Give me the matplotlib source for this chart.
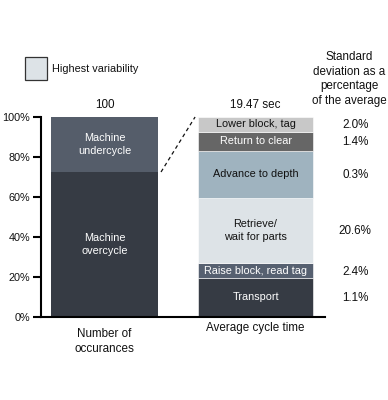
import matplotlib
matplotlib.use("Agg")
import matplotlib.pyplot as plt
from matplotlib.patches import Rectangle

plt.rcParams['font.family'] = ['Liberation Sans', 'DejaVu Sans']

# Data
left_labels = ["Machine\novercycle", "Machine\nundercycle"]
left_values = [72.5, 27.5]
left_colors = ["#363b44", "#555d6a"]

right_labels = ["Transport", "Raise block, read tag", "Retrieve/\nwait for parts",
                "Advance to depth", "Return to clear", "Lower block, tag"]
right_values = [3.80, 1.45, 6.35, 4.55, 1.90, 1.42]  # seconds
right_std = ["1.1%", "2.4%", "20.6%", "0.3%", "1.4%", "2.0%"]
right_colors = ["#363b44", "#566070", "#dde3e7", "#9fb3bf", "#666666", "#c8c8c8"]
right_text_colors = ["white", "white", "#111111", "#111111", "white", "#111111"]

categories = ["Number of\noccurances", "Average cycle time"]
totals = ["100", "19.47 sec"]
yticks = [0, 20, 40, 60, 80, 100]
ytick_labels = ["0%", "20%", "40%", "60%", "80%", "100%"]

fig = plt.figure(figsize=(3.88, 4.0), dpi=100)
ax = fig.add_axes([41/388, 1-317/400, (325-41)/388, 200/400])
ax.set_xlim(-0.42, 1.46)
ax.set_ylim(0, 100)

fs_bar = 7.8
fs_big = 8.4
fs_tick = 7.8
lw_left = 0.709
lw_right = 0.76

# Left bar
bottom = 0
for v, c, lab in zip(left_values, left_colors, left_labels):
    ax.bar(0, v, bottom=bottom, width=lw_left, color=c, edgecolor='none')
    ax.text(0, bottom + v/2, lab, ha='center', va='center', color='white', fontsize=fs_bar, linespacing=1.35)
    bottom += v

# Right bar (normalized to percent)
total = sum(right_values)
bottom = 0
for v, c, lab, tc, sd in zip(right_values, right_colors, right_labels, right_text_colors, right_std):
    h = v / total * 100
    ax.bar(1, h, bottom=bottom, width=lw_right, color=c, edgecolor='white', linewidth=0.4)
    ax.text(1, bottom + h/2, lab, ha='center', va='center', color=tc, fontsize=fs_bar, linespacing=1.35)
    ax.text(1.66, bottom + h/2 - 0.5, sd, ha='center', va='center', color='#111111', fontsize=fs_big, clip_on=False)
    bottom += h

# Dashed connector
ax.plot([lw_left/2 + 0.02, 1 - lw_right/2 - 0.02], [left_values[0], 100], ls=(0, (3, 2.5)),
        color='#111111', lw=0.9, clip_on=False)

# Totals above bars
for i, t in enumerate(totals):
    ax.text(i, 106, t, ha='center', va='center', fontsize=fs_big, color='#111111', clip_on=False)

# Category labels
ax.set_xticks([])
ax.text(0, -5.5, categories[0], ha='center', va='top', fontsize=fs_big, color='#111111',
        linespacing=1.3, clip_on=False)
ax.text(1, -5.5, categories[1], ha='center', va='center', fontsize=fs_big, color='#111111', clip_on=False)

# Axes styling
for s in ['top', 'right']:
    ax.spines[s].set_visible(False)
ax.spines['left'].set_linewidth(1.5)
ax.spines['bottom'].set_linewidth(1.5)
ax.set_yticks(yticks)
ax.set_yticklabels(ytick_labels, fontsize=fs_tick, color='#111111')
ax.tick_params(axis='y', length=6, width=1.5, pad=2)

# Right column header
fig.text(349/388, 1-79/400, "Standard\ndeviation as a\npercentage\nof the average", ha='center', va='center',
         fontsize=fs_big, color='#111111', linespacing=1.3)

# Legend
fig.patches.append(Rectangle((25/388, 1-80/400), 22/388, 23/400, transform=fig.transFigure,
                             facecolor='#dde3e7', edgecolor='#333333', linewidth=0.9))
fig.text(52/388, 1-69/400, "Highest variability", ha='left', va='center', fontsize=fs_tick, color='#111111')

fig.savefig("out.png", dpi=100)
